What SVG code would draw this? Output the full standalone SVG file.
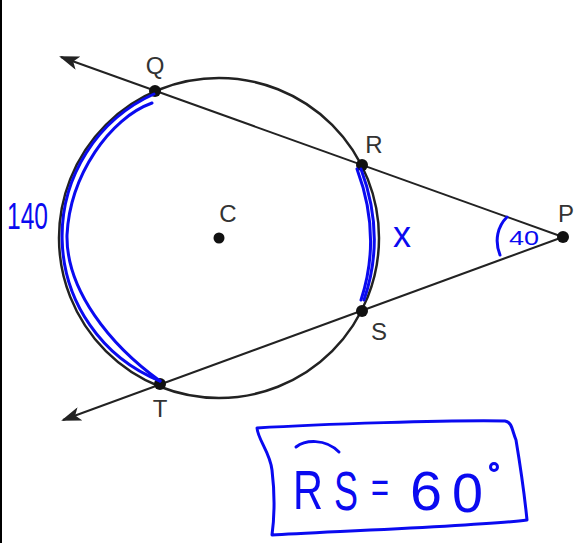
<svg xmlns="http://www.w3.org/2000/svg" width="575" height="543" viewBox="0 0 575 543">
<defs>
<marker id="arr" viewBox="0 0 20 14" refX="18" refY="7" markerWidth="20" markerHeight="14" markerUnits="userSpaceOnUse" orient="auto">
<path d="M0,0 L20,7 L0,14 L5,7 Z" fill="#222"/>
</marker>
<style>
.ln{stroke:#222;stroke-width:2;fill:none}
.dot{fill:#111}
.lbl{font-family:"Liberation Sans",Arial,sans-serif;font-size:24px;fill:#333}
.ink{stroke:#0a0af0;stroke-width:3;fill:none;stroke-linecap:round;stroke-linejoin:round}
.hand{font-family:"Liberation Sans",Arial,sans-serif;fill:#0a0af0}
.big{font-size:56px}
</style>
</defs>
<rect x="0" y="0" width="575" height="543" fill="#fff"/>
<rect x="0" y="0" width="2" height="543" fill="#000"/>
<g id="connectors">
<line class="ln" x1="563" y1="237" x2="61" y2="57" marker-end="url(#arr)"/>
<line class="ln" x1="563" y1="237" x2="63" y2="420" marker-end="url(#arr)"/>
</g>
<g id="circle"><circle cx="219" cy="238" r="160" stroke="#222" stroke-width="2.5" fill="none"/></g>
<g id="C"><circle class="dot" cx="219" cy="238" r="5.5"/><text class="lbl" x="228" y="222" text-anchor="middle">C</text></g>
<g id="Q"><circle class="dot" cx="155" cy="91" r="6"/><text class="lbl" x="155" y="74" text-anchor="middle">Q</text></g>
<g id="R"><circle class="dot" cx="362" cy="165" r="6"/><text class="lbl" x="374" y="153" text-anchor="middle">R</text></g>
<g id="S"><circle class="dot" cx="362" cy="311" r="6"/><text class="lbl" x="379" y="340" text-anchor="middle">S</text></g>
<g id="T"><circle class="dot" cx="160" cy="384" r="6"/><text class="lbl" x="160" y="417" text-anchor="middle">T</text></g>
<g id="P"><circle class="dot" cx="563" cy="237" r="6"/><text class="lbl" x="558" y="222">P</text></g>
<g id="annotations">
<path class="ink" d="M154,94 A156,156 0 0 0 160,381"/>
<path class="ink" d="M152,103 C110,118 70,175 67,235 C66,290 110,345 160,381"/>
<path class="ink" d="M357,169 Q382,236 361,300"/>
<path class="ink" d="M361,169 Q386,236 364,300"/>
<text class="hand" x="7" y="229" font-size="36" textLength="41" lengthAdjust="spacingAndGlyphs">140</text>
<text class="hand" x="393" y="247" font-size="36">x</text>
<path class="ink" d="M507,217 C498,226 494,240 500,255"/>
<text class="hand" x="509" y="245" font-size="21" textLength="30" lengthAdjust="spacingAndGlyphs">40</text>
<path class="ink" d="M257,428 C320,424 450,420 505,421 C512,422 512,430 516,440 C521,470 525,500 527,520 C480,526 320,532 272,535 C274,520 275,495 272,470 C270,452 258,440 257,428 Z"/>
<path class="ink" d="M296,447 C305,440 325,438 339,452"/>
<text class="hand big" x="293" y="509" textLength="30" lengthAdjust="spacingAndGlyphs">R</text>
<text class="hand big" x="334" y="510" textLength="24" lengthAdjust="spacingAndGlyphs">S</text>
<text class="hand" font-size="44" x="371" y="503" textLength="18" lengthAdjust="spacingAndGlyphs">=</text>
<text class="hand big" x="410" y="510" textLength="32" lengthAdjust="spacingAndGlyphs">6</text>
<text class="hand big" x="452" y="512" textLength="31" lengthAdjust="spacingAndGlyphs">0</text>
<circle cx="494" cy="467" r="3.5" class="ink" stroke-width="2.5"/>
</g>
</svg>
